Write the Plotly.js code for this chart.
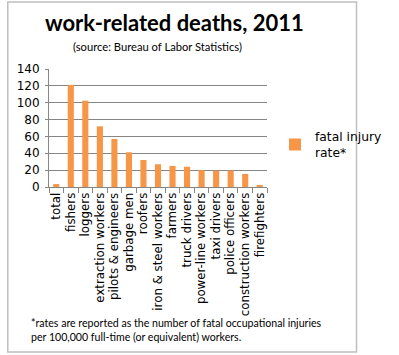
<!DOCTYPE html>
<html><head><meta charset="utf-8">
<script src="https://cdn.plot.ly/plotly-3.0.1.min.js"></script>
<style>html,body{margin:0;padding:0;background:#fff}#c{width:399px;height:355px}</style>
</head><body><div id="c"></div>
<script>
const categories = ["total","fishers","loggers","extraction workers","pilots & engineers","garbage men","roofers","iron & steel workers","farmers","truck drivers","power-line workers","taxi drivers","police officers","construction workers","firefighters"];
const fatalRate = [3.5, 121.2, 102.4, 72, 57, 41.2, 32, 27, 25, 24, 20, 19.5, 19.5, 15.5, 2.5];
const yTicks = [0, 20, 40, 60, 80, 100, 120, 140];
const seriesName = "fatal injury<br>rate*";
const titleText = "work-related deaths, 2011";
const subtitleText = "(source: Bureau of Labor Statistics)";
const footnoteText = "*rates are reported as the number of fatal occupational injuries<br>per 100,000 full-time (or equivalent) workers.";

const W = 399, H = 355, L = 49, R = 295, T = 69, B = 187;
const px = x => (x - L) / (R - L);
const py = y => (B - y) / (B - T);

const trace = {
  type: "bar", x: categories, y: fatalRate, name: seriesName,
  marker: {color: "#F79646"}, showlegend: true
};
const layout = {
  width: W, height: H,
  margin: {l: L, r: W - R, t: T, b: H - B, pad: 0},
  paper_bgcolor: "#fff", plot_bgcolor: "#fff",
  font: {family: "DejaVu Sans", color: "#000"},
  bargap: 0.58,
  xaxis: {
    type: "category", tickangle: -90, tickfont: {size: 11.8, family: "DejaVu Sans"},
    tickmode: "array", tickvals: categories, ticktext: categories,
    showline: true, linecolor: "#868686", linewidth: 1,
    ticks: "outside", tickson: "boundaries", ticklen: 5, tickcolor: "#868686",
    showgrid: false, automargin: false
  },
  yaxis: {
    range: [0, 140], tickvals: yTicks, tickfont: {size: 12, family: "DejaVu Sans"},
    showline: true, linecolor: "#868686", linewidth: 1,
    ticks: "outside", ticklen: 3, tickcolor: "#868686", ticklabelstandoff: 3,
    showgrid: true, gridcolor: "#868686", gridwidth: 1, zeroline: false,
    automargin: false
  },
  showlegend: true,
  legend: {
    x: px(304), y: py(144.5), xanchor: "left", yanchor: "middle",
    font: {size: 12.3, family: "DejaVu Sans"}, bgcolor: "rgba(0,0,0,0)",
    itemwidth: 30, valign: "middle"
  },
  title: {text: ""},
  annotations: [
    {text: "<b>" + titleText + "</b>", xref: "paper", yref: "paper", x: px(42), y: py(23),
     xanchor: "left", yanchor: "middle", showarrow: false,
     font: {family: "Lato", size: 22, color: "#000"}},
    {text: subtitleText, xref: "paper", yref: "paper", x: px(171), y: py(46),
     xanchor: "center", yanchor: "middle", showarrow: false,
     font: {family: "Lato", size: 11.2, color: "#000"}},
    {text: footnoteText, xref: "paper", yref: "paper", x: px(26), y: py(330),
     xanchor: "left", yanchor: "middle", align: "left", showarrow: false,
     font: {family: "Lato", size: 10.6, color: "#000"}}
  ],
  shapes: [
    {type: "rect", xref: "paper", yref: "paper", x0: px(2.5), x1: px(396), y0: py(2), y1: py(352),
     line: {color: "#BFBFBF", width: 1.5}, fillcolor: "rgba(0,0,0,0)", layer: "below"}
  ]
};
Plotly.newPlot("c", [trace], layout, {displayModeBar: false, staticPlot: true});
</script></body></html>
